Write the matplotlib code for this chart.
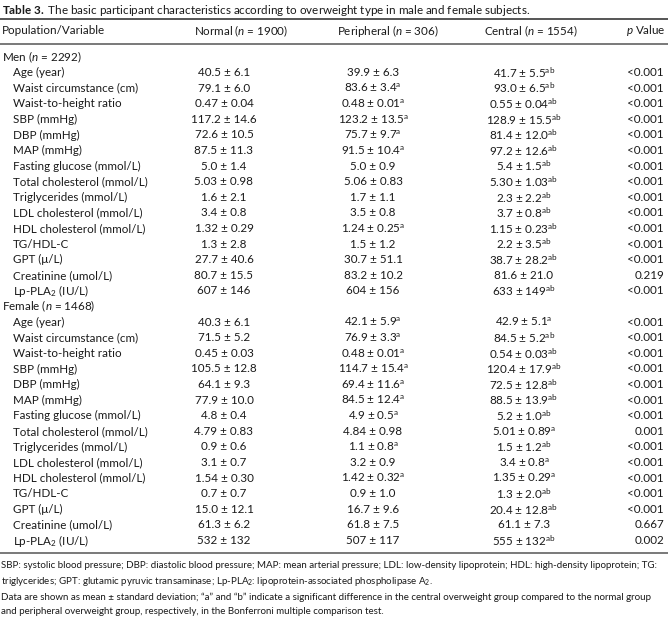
import matplotlib.pyplot as plt

plt.rcParams['font.family'] = ['Lato', 'DejaVu Sans']
plt.rcParams['mathtext.fontset'] = 'custom'
plt.rcParams['mathtext.rm'] = 'Lato'
plt.rcParams['mathtext.it'] = 'Lato:italic'
plt.rcParams['mathtext.bf'] = 'Lato:bold'

title = r"$\mathbf{Table\ 3.}$ The basic participant characteristics according to overweight type in male and female subjects."
headers = ["Population/Variable", "Normal ($n$ = 1900)", "Peripheral ($n$ = 306)",
           "Central ($n$ = 1554)", "$p$ Value"]
groups = ["Men ($n$ = 2292)", "Female ($n$ = 1468)"]
variables = ["Age (year)", "Waist circumstance (cm)", "Waist-to-height ratio", "SBP (mmHg)",
             "DBP (mmHg)", "MAP (mmHg)", "Fasting glucose (mmol/L)", "Total cholesterol (mmol/L)",
             "Triglycerides (mmol/L)", "LDL cholesterol (mmol/L)", "HDL cholesterol (mmol/L)",
             "TG/HDL-C", "GPT (μ/L)", "Creatinine (umol/L)", "Lp-PLA$_2$ (IU/L)"]

# men
men_normal = ["40.5 ± 6.1", "79.1 ± 6.0", "0.47 ± 0.04", "117.2 ± 14.6", "72.6 ± 10.5", "87.5 ± 11.3",
              "5.0 ± 1.4", "5.03 ± 0.98", "1.6 ± 2.1", "3.4 ± 0.8", "1.32 ± 0.29", "1.3 ± 2.8",
              "27.7 ± 40.6", "80.7 ± 15.5", "607 ± 146"]
men_periph = ["39.9 ± 6.3", "83.6 ± 3.4", "0.48 ± 0.01", "123.2 ± 13.5", "75.7 ± 9.7", "91.5 ± 10.4",
              "5.0 ± 0.9", "5.06 ± 0.83", "1.7 ± 1.1", "3.5 ± 0.8", "1.24 ± 0.25", "1.5 ± 1.2",
              "30.7 ± 51.1", "83.2 ± 10.2", "604 ± 156"]
men_periph_sup = ["", "a", "a", "a", "a", "a", "", "", "", "", "a", "", "", "", ""]
men_central = ["41.7 ± 5.5", "93.0 ± 6.5", "0.55 ± 0.04", "128.9 ± 15.5", "81.4 ± 12.0", "97.2 ± 12.6",
               "5.4 ± 1.5", "5.30 ± 1.03", "2.3 ± 2.2", "3.7 ± 0.8", "1.15 ± 0.23", "2.2 ± 3.5",
               "38.7 ± 28.2", "81.6 ± 21.0", "633 ± 149"]
men_central_sup = ["ab"] * 13 + ["", "ab"]
men_p = ["<0.001"] * 13 + ["0.219", "<0.001"]

# female
fem_normal = ["40.3 ± 6.1", "71.5 ± 5.2", "0.45 ± 0.03", "105.5 ± 12.8", "64.1 ± 9.3", "77.9 ± 10.0",
              "4.8 ± 0.4", "4.79 ± 0.83", "0.9 ± 0.6", "3.1 ± 0.7", "1.54 ± 0.30", "0.7 ± 0.7",
              "15.0 ± 12.1", "61.3 ± 6.2", "532 ± 132"]
fem_periph = ["42.1 ± 5.9", "76.9 ± 3.3", "0.48 ± 0.01", "114.7 ± 15.4", "69.4 ± 11.6", "84.5 ± 12.4",
              "4.9 ± 0.5", "4.84 ± 0.98", "1.1 ± 0.8", "3.2 ± 0.9", "1.42 ± 0.32", "0.9 ± 1.0",
              "16.7 ± 9.6", "61.8 ± 7.5", "507 ± 117"]
fem_periph_sup = ["a", "a", "a", "a", "a", "a", "a", "", "a", "", "a", "", "", "", ""]
fem_central = ["42.9 ± 5.1", "84.5 ± 5.2", "0.54 ± 0.03", "120.4 ± 17.9", "72.5 ± 12.8", "88.5 ± 13.9",
               "5.2 ± 1.0", "5.01 ± 0.89", "1.5 ± 1.2", "3.4 ± 0.8", "1.35 ± 0.29", "1.3 ± 2.0",
               "20.4 ± 12.8", "61.1 ± 7.3", "555 ± 132"]
fem_central_sup = ["a", "ab", "ab", "ab", "ab", "ab", "ab", "a", "ab", "a", "a", "ab", "ab", "", "ab"]
fem_p = ["<0.001"] * 7 + ["0.001"] + ["<0.001"] * 5 + ["0.667", "0.002"]

footnotes = [
    "SBP: systolic blood pressure; DBP: diastolic blood pressure; MAP: mean arterial pressure; LDL: low-density lipoprotein; HDL: high-density lipoprotein; TG:",
    "triglycerides; GPT: glutamic pyruvic transaminase; Lp-PLA$_2$: lipoprotein-associated phospholipase A$_2$.",
    "Data are shown as mean ± standard deviation; “a” and “b” indicate a significant difference in the central overweight group compared to the normal group",
    "and peripheral overweight group, respectively, in the Bonferroni multiple comparison test.",
]


def with_sup(val, sup):
    if sup:
        return val + r"$^{\mathrm{" + sup + "}}$"
    return val


fig = plt.figure(figsize=(6.68, 6.2), dpi=100)
ax = fig.add_axes([0, 0, 1, 1])
ax.set_xlim(0, 668)
ax.set_ylim(620, 0)
ax.axis("off")

fs = 8.4
txt = "#1a1a1a"
rule = "#555555"

ax.text(2, 10, title, fontsize=fs, va="center", ha="left", color=txt)
ax.hlines([19], 0, 668, color=rule, lw=1.4)
ax.hlines([43.5, 553], 0, 668, color=rule, lw=1.1)

col_x = [2, 241, 388, 531, 666]
ax.text(col_x[0], 31, headers[0], fontsize=fs, va="center", ha="left", color=txt)
for i in (1, 2, 3):
    ax.text(col_x[i], 31, headers[i], fontsize=fs, va="center", ha="center", color=txt)
ax.text(col_x[4], 31, headers[4], fontsize=fs, va="center", ha="right", color=txt)

val_x = [224, 373, 524, 664]
y0 = 57
step = 15.6
blocks = [
    (groups[0], men_normal, men_periph, men_periph_sup, men_central, men_central_sup, men_p),
    (groups[1], fem_normal, fem_periph, fem_periph_sup, fem_central, fem_central_sup, fem_p),
]
row = 0
for g, nor, per, per_s, cen, cen_s, pv in blocks:
    y = y0 + row * step
    ax.text(2, y, g, fontsize=fs, va="center", ha="left", color=txt)
    row += 1
    for k, var in enumerate(variables):
        y = y0 + row * step
        ax.text(13, y, var, fontsize=fs, va="center", ha="left", color=txt)
        ax.text(val_x[0], y, nor[k], fontsize=fs, va="center", ha="center", color=txt)
        ax.text(val_x[1], y, with_sup(per[k], per_s[k]), fontsize=fs, va="center", ha="center", color=txt)
        ax.text(val_x[2], y, with_sup(cen[k], cen_s[k]), fontsize=fs, va="center", ha="center", color=txt)
        ax.text(val_x[3], y, pv[k], fontsize=fs, va="center", ha="right", color=txt)
        row += 1

# footnotes: shrink the font so the longest line fits the width
fn_y = [566, 581, 597, 612]
fn_fs = 7.2
r = fig.canvas.get_renderer()
probe = ax.text(0, 0, footnotes[0], fontsize=fn_fs)
w = probe.get_window_extent(renderer=r).width
probe.remove()
fn_fs = fn_fs * 656 / w
for y, line in zip(fn_y, footnotes):
    ax.text(1, y, line, fontsize=fn_fs, va="center", ha="left", color=txt)

plt.savefig("out.png", dpi=100)
